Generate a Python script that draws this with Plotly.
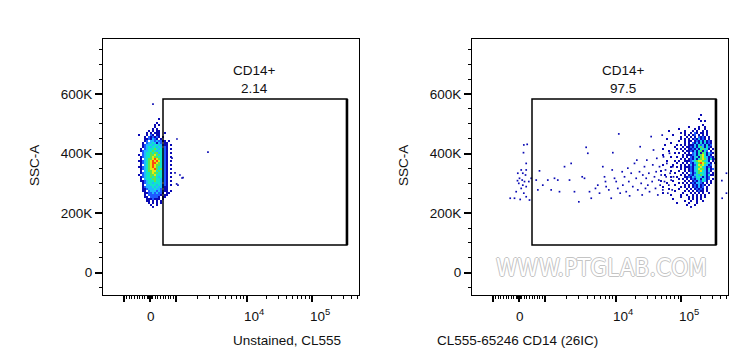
import numpy as np
import plotly.graph_objects as go

# ---------------- data ----------------
# Biexponential display: linear within +-1000, then log decades
LIN_U = 0.4          # display units at 1000
DEC1_U = 71 / 65     # width of 10^3..10^4 decade
DEC_U = 1.0          # width of later decades

X_TITLES = ["Unstained, CL555", "CL555-65246 CD14 (26IC)"]
Y_TITLE = "SSC-A"
GATE_NAME = "CD14+"
GATE_VALUES = ["2.14", "97.5"]
GATE_FL = [500, 345000]
GATE_SSC = [93000, 583000]

Y_TICKS = [0, 200000, 400000, 600000]
Y_TICK_TEXT = ["0", "200K", "400K", "600K"]
Y_MINOR = [v for v in range(-50000, 800000, 50000) if v % 200000 != 0]

X_MAJOR = [-1000, 0, 1000, 10000, 100000]
X_LABELS = [(0, "0", 1, -21), (10000, "10<sup>4</sup>", 7, -20), (100000, "10<sup>5</sup>", 7.5, -20)]
X_MINOR = ([-2000] + list(range(-900, 0, 100)) + list(range(-90, 0, 10)) + list(range(10, 100, 10))
           + list(range(100, 1000, 100)) + list(range(2000, 10000, 1000))
           + list(range(20000, 100000, 10000)) + list(range(200000, 600000, 100000)))

# density grids (2 display-px bins), levels 1 (sparse) .. 7 (densest)
BIN_U = 2 / 65
BIN_SSC = 6716
GRID_SSC_TOP = 540000
LEFT_GRID_U0 = -12 / 65
RIGHT_GRID_U0 = 138.5 / 65

LEFT_GRID = [
    "..................",
    "..................",
    "..................",
    "..........1.......",
    "..................",
    ".........1........",
    "........1.1.......",
    "........1.........",
    ".......1.1........",
    ".....1.1.11.......",
    "....1.1.111..1....",
    "1...1.21.11.......",
    "...1.212121.1.....",
    "...1121321.1......",
    "...12.33232211.1..",
    "..1.23343132.11...",
    "..1233434433211.1.",
    "..1234344343.21...",
    ".1.234445434321.1.",
    ".12334454344321...",
    "..2344545534321.1.",
    "1.2344556454321...",
    ".12344565544321.1.",
    ".1.345567654321...",
    "112345676764321.1.",
    ".12345677654321...",
    ".1.345676554321.1.",
    "112345676544321...",
    ".12345667545321.1.",
    ".1.345566454321...",
    ".12344565544321.1.",
    "1.2344556444321...",
    ".12344545434321.1.",
    ".1.344455443321...",
    ".11234445443321.1.",
    "..1234434443.21...",
    "..1.33444343221.1.",
    "..1233343433211...",
    "..1123334332.11...",
    "..11.2333232211.1.",
    "...1122323221.11..",
    "...1.2222221.11...",
    "...11.22221.11....",
    "....1112111.1.....",
    "....11.1.1.1......",
    ".....1.1.1.1......",
    "......1..1........",
    ".......1..........",
]

RIGHT_GRID = [
    ".............................",
    ".....................1.......",
    ".............................",
    "....................1........",
    ".....................1.1.....",
    ".............................",
    "......................1......",
    "...............1....1..1.....",
    "..........1.......1.1..1.....",
    ".....1.......1...1.1..1.1....",
    "...........1.1..1.21.11.1....",
    ".......1.....1.1.12.1.1.1....",
    "...........1..1.1.1.2121.1...",
    "....1......1.1.1.1213121.1...",
    "..........1..1.11.121314121..",
    "......1......1.1.2131413121..",
    "...1.....1.1.1.111314231412..",
    "........1...1.1121314531421..",
    "..1......1.1.1.11213145341.1.",
    ".....1......1.11213145142.1..",
    "........1.1..1.1.23141541321.",
    "..1.........1.1112314564131..",
    "......1..1..1.1.213415643121.",
    "...........1.1.12131456531412",
    "....1...1.1..1112345665431.1.",
    ".........1..1.1.21345765431.1",
    "..1....1...1.1.131246564312..",
    "......1..1.1.11121345643121..",
    "...........1.1.1213465531412.",
    ".1....1...1..1.121345643131..",
    "........1...1.1.3124544312.1.",
    "...1.......1.1.1213435431411.",
    "......1..1...1121324431312...",
    "..........1.1.1.1213414312.1.",
    ".1.....1.....1.1.12132431.1..",
    "....1.....1.1.1.1213321.1.1..",
    "........1....1.1.1213121.1...",
    "..1........1.1.1.121312.1....",
    ".....1....1...1.1.12121.1....",
    "........1....1.1.1.1211.1....",
    "..1.........1...1.1.1.1..1...",
    "......1....1..1..1.1.1.1.....",
    "...........1...1.1.1.1.1.....",
    ".......1.......1.1.1.1.......",
    ".............1..1..1..1......",
    ".........1.....1...1.........",
    "..............1...1..........",
    "................1............",
]

LEFT_STRAY_FL = [115, 1032, 2820, 1214, 1066, 962, 1136, 1256, 1022, 846]
LEFT_STRAY_SSC = [566000, 449000, 405000, 318000, 294000, 335000, 328000, 319000, 298000, 385000]

RIGHT_SPARSE_FL = [
    185, 315, 173, 277, 85, -46, 146, 250, 19, 123, 212, -8, 146, 277, 85, -108, 185, -338, -173, 46,
    277, 404, 377, 469, -58, 277,
    788, 662, 725, 915, 1095, 1222, 1361, 1514, 1600, 1884, 2215, 2337, 2600, 2995, 3342, 3600, 3800,
    4008, 4235, 4480, 5140, 5540, 5860, 6520, 6890, 7110, 7270, 7920, 8560, 8840, 9020, 9530, 10070,
    10660, 11040, 11600, 12450, 12740, 13530, 14360, 15200, 15740, 16200, 17130, 18130, 19260, 20450,
    20900, 21640, 23000, 23550, 24410, 25290, 25850, 27420, 28420, 29150, 29800, 30860, 31990, 32800,
    34760, 36030, 36810, 37760, 39080, 40520, 41500, 42430, 43970, 45540, 46700, 47850, 49550, 51370,
    52480, 53800, 55730, 57760, 59160, 60530, 62700, 64940, 66500, 68200, 70600, 73200, 74800, 76700,
    425000, 430000, 500000, 500000,
]
RIGHT_SPARSE_SSC = [
    429000, 431000, 403000, 367000, 345000, 334000, 334000, 328000, 317000, 311000, 306000, 300000,
    294000, 289000, 283000, 272000, 267000, 250000, 250000, 246000, 255000, 244000, 306000, 317000,
    309000, 345000,
    342000, 311000, 278000, 294000, 311000, 278000, 317000, 311000, 272000, 356000, 311000, 367000,
    272000, 238000, 322000, 317000, 421000, 401000, 272000, 250000, 283000, 294000, 267000, 356000,
    322000, 306000, 289000, 278000, 250000, 345000, 403000, 317000, 306000, 283000, 466000, 267000,
    339000, 294000, 322000, 272000, 351000, 306000, 258000, 334000, 289000, 367000, 317000, 378000,
    278000, 339000, 423000, 300000, 261000, 328000, 356000, 283000, 317000, 378000, 294000, 334000,
    272000, 457000, 306000, 362000, 412000, 322000, 283000, 339000, 384000, 261000, 311000, 356000,
    294000, 328000, 462000, 278000, 389000, 306000, 345000, 322000, 367000, 267000, 294000, 401000,
    334000, 311000, 278000, 356000, 322000,
    309000, 250000, 334000, 267000,
]

LEVEL_COLORS = ["#0a0ab4", "#1e5aff", "#20b8ff", "#10e6c8", "#5ae650", "#e8e810", "#ff4a10"]


# ---------------- helpers ----------------
def T(v):
    v = np.asarray(v, dtype=float)
    a = np.abs(v)
    with np.errstate(divide="ignore"):
        lg = np.log10(np.maximum(a, 1e-9))
    u = np.where(a <= 1000, LIN_U * a / 1000,
                 np.where(a <= 10000, LIN_U + (lg - 3) * DEC1_U,
                          LIN_U + DEC1_U + (lg - 4) * DEC_U))
    return np.sign(v) * u


def grid_trace(rows, u0, xa, ya):
    ncol = max(len(r) for r in rows)
    z = [[(int(c) if c.isdigit() else None) for c in r.ljust(ncol, ".")[:ncol]] for r in rows]
    xc = [u0 + BIN_U * (i + 0.5) for i in range(ncol)]
    yc = [GRID_SSC_TOP - BIN_SSC * (j + 0.5) for j in range(len(rows))]
    z = z[::-1]
    yc = yc[::-1]
    cs = []
    n = len(LEVEL_COLORS)
    for i, c in enumerate(LEVEL_COLORS):
        cs.append([i / n, c])
        cs.append([(i + 1) / n, c])
    return go.Heatmap(z=z, x=xc, y=yc, colorscale=cs, zmin=0.5, zmax=n + 0.5,
                      showscale=False, hoverinfo="skip", xaxis=xa, yaxis=ya, xgap=0, ygap=0)


FONT = "Liberation Sans, Arial, sans-serif"
TXT = "#111111"
W, H = 749, 364
X_DOMAINS = [[103 / W, 359 / W], [472 / W, 728 / W]]
Y_DOMAIN = [69 / H, 325 / H]
X_RANGE = [-47 / 65, 209 / 65]
Y_RANGE = [-74900, 784700]

fig = go.Figure()
fig.add_trace(grid_trace(LEFT_GRID, LEFT_GRID_U0, "x", "y"))
fig.add_trace(go.Scatter(x=T(LEFT_STRAY_FL), y=LEFT_STRAY_SSC, mode="markers", xaxis="x", yaxis="y",
                         marker=dict(symbol="square", size=1.7, color=LEVEL_COLORS[0], line_width=0),
                         hoverinfo="skip", showlegend=False))
fig.add_trace(grid_trace(RIGHT_GRID, RIGHT_GRID_U0, "x2", "y2"))
fig.add_trace(go.Scatter(x=T(RIGHT_SPARSE_FL), y=RIGHT_SPARSE_SSC, mode="markers", xaxis="x2", yaxis="y2",
                         marker=dict(symbol="square", size=1.7, color=LEVEL_COLORS[0], line_width=0),
                         hoverinfo="skip", showlegend=False))

xmaj = list(T(X_MAJOR))
xmin = list(T(X_MINOR))
axis_common = dict(showline=True, linecolor="black", linewidth=1, mirror=True, showgrid=False,
                   zeroline=False, ticks="outside", tickcolor="black")
for k, dom in enumerate(X_DOMAINS):
    sfx = "" if k == 0 else "2"
    fig.update_layout(**{
        "xaxis" + sfx: dict(domain=dom, range=X_RANGE, anchor="y" + sfx, tickmode="array",
                            tickvals=xmaj, ticktext=[""] * len(xmaj), ticklen=6, tickwidth=2,
                            minor=dict(tickmode="array", tickvals=xmin, ticklen=3, tickwidth=1,
                                       tickcolor="black", ticks="outside"),
                            **axis_common),
        "yaxis" + sfx: dict(domain=Y_DOMAIN, range=Y_RANGE, anchor="x" + sfx, tickmode="array",
                            tickvals=Y_TICKS, ticktext=Y_TICK_TEXT, ticklen=7, tickwidth=2,
                            tickfont=dict(family=FONT, size=13.5, color=TXT),
                            minor=dict(tickmode="array", tickvals=Y_MINOR, ticklen=3, tickwidth=1,
                                       tickcolor="black", ticks="outside"),
                            **axis_common),
    })
    xr = "x" + sfx
    yr = "y" + sfx
    gx0, gx1 = T(GATE_FL)
    fig.add_shape(type="rect", xref=xr, yref=yr, x0=gx0, x1=gx1, y0=GATE_SSC[0], y1=GATE_SSC[1],
                  line=dict(color="black", width=1.5))
    fig.add_shape(type="line", xref=xr, yref=yr, x0=gx1, x1=gx1, y0=GATE_SSC[0], y1=GATE_SSC[1],
                  line=dict(color="black", width=2.6))
    fig.add_annotation(xref=xr, yref=yr, x=(gx0 + gx1) / 2, y=649000,
                       text=GATE_NAME + "<br>" + GATE_VALUES[k], showarrow=False,
                       font=dict(family=FONT, size=13.5, color=TXT), yanchor="middle")
    for val, lab, sh, vs in X_LABELS:
        fig.add_annotation(xref=xr, yref="paper", x=float(T(val)), y=Y_DOMAIN[0], yshift=vs,
                           xshift=sh, text=lab, showarrow=False, yanchor="middle",
                           font=dict(family=FONT, size=13.5, color=TXT))
    cx = (dom[0] + dom[1]) / 2
    fig.add_annotation(xref="paper", yref="paper", x=cx, y=(H - 340) / H, text=X_TITLES[k],
                       showarrow=False, yanchor="middle", font=dict(family=FONT, size=13.5, color=TXT))
    fig.add_annotation(xref="paper", yref="paper", x=dom[0] - 69 / W, y=(H - 166) / H, text=Y_TITLE,
                       textangle=-90, showarrow=False, xanchor="center", yanchor="middle",
                       font=dict(family=FONT, size=13.5, color=TXT))

fig.add_annotation(xref="paper", yref="paper", x=601 / W, y=(H - 268) / H, text="WWW.PTGLAB.COM",
                   showarrow=False, xanchor="center", yanchor="middle",
                   font=dict(family="Liberation Sans Narrow, DejaVu Sans Condensed, sans-serif",
                             size=24, color="white",
                             shadow="1px 0 0 #c4c4c4, -1px 0 0 #c4c4c4, 0 1px 0 #c4c4c4, 0 -1px 0 #c4c4c4"))

fig.update_layout(width=W, height=H, margin=dict(l=0, r=0, t=0, b=0), showlegend=False,
                  plot_bgcolor="white", paper_bgcolor="white")
fig.write_html("out.html", post_script="document.body.style.margin='0px';",
               config={"displayModeBar": False})
